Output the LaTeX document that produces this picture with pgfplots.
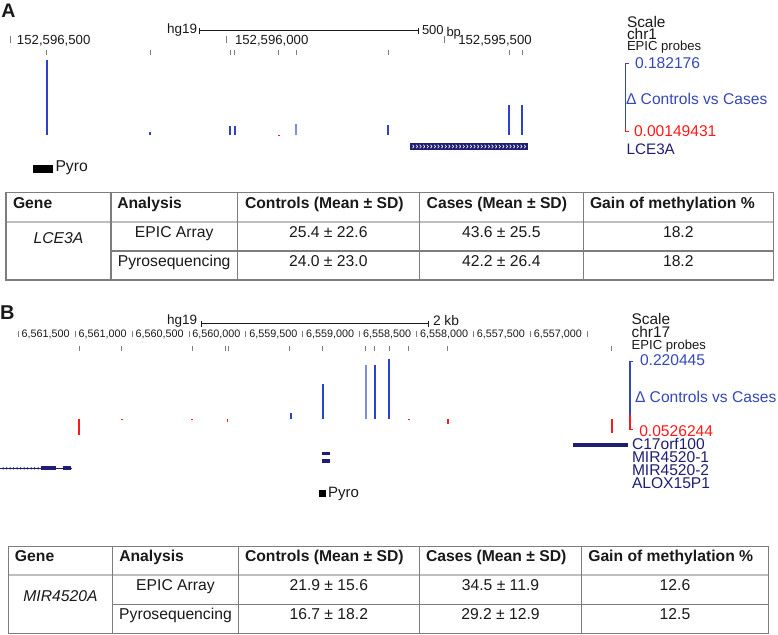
\documentclass[border=0pt]{standalone}
\usepackage{pgfplots}
\pgfplotsset{compat=1.18}
\usepackage{fontspec}
\setmainfont{Liberation Sans}
\definecolor{barblue}{RGB}{45,65,205}
\definecolor{lightbar}{RGB}{125,140,225}
\definecolor{txtblue}{RGB}{52,72,185}
\definecolor{ucscred}{RGB}{255,25,25}
\definecolor{navy}{RGB}{30,30,115}
\definecolor{tgray}{RGB}{125,125,125}
\definecolor{hgray}{RGB}{190,190,190}
\definecolor{ink}{RGB}{25,25,25}
\newcommand{\fs}[1]{\fontsize{#1pt}{#1pt}\selectfont}
\pgfplotsset{track/.style={x=0.5pt, y=0.5pt, xmin=0, xmax=778, hide axis, clip=false, enlargelimits=false, anchor=south west}}
\begin{document}
\begin{tikzpicture}[x=0.5pt,y=-0.5pt, every node/.style={inner sep=0pt, outer sep=0pt}]
\useasboundingbox (0,0) rectangle (778,635);
% ================= Panel A track (baseline at pixel y=135) =================
\begin{axis}[track, ymin=-40, ymax=85, at={(0pt,-87.5pt)}]
% delta bars (height above baseline, px of track)
\addplot[ycomb, color=barblue, line width=0.85pt] coordinates {(46.7,75) (150,3) (230,9) (235,9) (388.3,10) (509.3,30) (522.3,30)};
\addplot[ycomb, color=lightbar, line width=0.85pt] coordinates {(296,11)};
\addplot[ycomb, color=ucscred, line width=0.9pt] coordinates {(278.7,-1.2)};
% EPIC probe positions
\addplot[only marks, mark=|, mark size=1.3pt, mark options={line width=0.45pt, tgray}] coordinates {(46.7,82.5) (150,82.5) (230,82.5) (234.3,82.5) (278.7,82.5) (296,82.5) (388.3,82.5) (509.3,82.5) (522.3,82.5)};
% LCE3A gene
\addplot[navy, line width=3.5pt] coordinates {(410,-11.5) (528,-11.5)};
\pgfplotsinvokeforeach{0,...,31}{\draw[white, line width=0.3pt] (axis cs:{412.5+3.6*#1},-13.2) -- (axis cs:{414+3.6*#1},-11.5) -- (axis cs:{412.5+3.6*#1},-9.8);}
% Pyro amplicon
\addplot[black, line width=4pt] coordinates {(33,-34) (53,-34)};
\end{axis}
% ================= Panel B track (baseline at pixel y=419.3) =================
\begin{axis}[track, ymin=-90, ymax=75, at={(0pt,-254.65pt)}]
\addplot[ycomb, color=barblue, line width=0.9pt] coordinates {(290.7,6) (323.3,35) (374.7,54) (389.3,60)};
\addplot[ycomb, color=lightbar, line width=0.9pt] coordinates {(366,54)};
\addplot[ycomb, color=ucscred, line width=0.95pt] coordinates {(79.3,-15.7) (121.7,-1) (192.3,-1) (227.5,-2.5) (409,-0.8) (447.7,-4.7) (611.7,-14)};
\addplot[only marks, mark=|, mark size=1.3pt, mark options={line width=0.45pt, tgray}] coordinates {(79.3,71) (121.7,71) (192.3,71) (225.3,71) (228.3,71) (289.3,71) (322.7,71) (365.7,71) (374.7,71) (389.3,71) (408.3,71) (447.7,71) (611.7,71)};
% genes
\addplot[navy, line width=1.7pt] coordinates {(573.3,-25.7) (628.3,-25.7)};
\addplot[navy, line width=1.7pt] coordinates {(321.7,-34) (330,-34)};
\addplot[navy, line width=1.7pt] coordinates {(321.7,-41.7) (330,-41.7)};
\addplot[navy, line width=0.5pt] coordinates {(0,-49) (71.7,-49)};
\addplot[navy, line width=2.2pt] coordinates {(40.7,-49) (55.7,-49)};
\addplot[navy, line width=2.2pt] coordinates {(63.3,-49) (71,-49)};
\pgfplotsinvokeforeach{0,...,10}{\draw[navy, line width=0.3pt] (axis cs:{3.5+3.5*#1},-47.8) -- (axis cs:{2.5+3.5*#1},-49) -- (axis cs:{3.5+3.5*#1},-50.2);}
% Pyro amplicon
\addplot[black, line width=3.5pt] coordinates {(318.5,-74) (325.5,-74)};
\end{axis}
% ================= Panel A text =================
\node[anchor=base west, font=\bfseries\fs{9.8}, ink] at (1.5,18) {A};
\node[anchor=base west, font=\fs{6.75}, ink] at (167,34) {hg19};
\draw[ink, line width=0.5pt] (199,30.7) -- (418,30.7) (199,27.7) -- (199,33.7) (418,27.7) -- (418,33.7);
\node[anchor=base west, font=\fs{6.5}, ink] at (422,35) {500};
\node[anchor=base west, font=\fs{6.5}, ink] at (446.5,36.5) {bp};
\draw[tgray, line width=0.5pt] (10,36) -- (10,43) (226.7,36) -- (226.7,43) (444.3,36) -- (444.3,43);
\node[anchor=base west, font=\fs{6.6}, ink] at (17,44.3) {152,596,500};
\node[anchor=base west, font=\fs{6.6}, ink] at (235,44.3) {152,596,000};
\node[anchor=base west, font=\fs{6.6}, ink] at (458.3,44.3) {152,595,500};
\node[anchor=base west, font=\fs{7.7}, ink] at (627,27.3) {Scale};
\node[anchor=base west, font=\fs{7.7}, ink] at (627,39.3) {chr1};
\node[anchor=base west, font=\fs{6.55}, ink] at (627,50.7) {EPIC probes};
\node[anchor=base west, font=\fs{7.8}, txtblue] at (635,68.3) {0.182176};
\node[anchor=base west, font=\fs{7.8}, txtblue] at (626,105) {Δ Controls vs Cases};
\node[anchor=base west, font=\fs{7.8}, ucscred] at (634,136.5) {0.00149431};
\node[anchor=base west, font=\fs{7.6}, navy] at (626.7,155) {LCE3A};
\draw[txtblue, line width=0.6pt] (628.5,63.3) -- (625.7,63.3) -- (625.7,128);
\draw[ucscred, line width=0.6pt] (625.7,128) -- (625.7,131.7) -- (628.5,131.7);
\node[anchor=base west, font=\fs{7.85}, ink] at (55.5,171.5) {Pyro};
% ================= Table A =================
\draw[hgray, line width=1pt] (6,221.7) -- (773.3,221.7);
\draw[tgray, line width=0.6pt] (6,192.7) rectangle (773.3,280);
\draw[tgray, line width=0.6pt] (111,251) -- (773.3,251);
\draw[tgray, line width=0.6pt] (111,192.7) -- (111,280) (237.3,192.7) -- (237.3,280) (419.3,192.7) -- (419.3,280) (583.3,192.7) -- (583.3,280);
\begin{scope}[every node/.append style={font=\bfseries\fs{7.85}, ink, anchor=base west}]
\node at (13,208.3) {Gene};
\node at (117.3,208.3) {Analysis};
\node at (245,208.3) {Controls (Mean ± SD)};
\node at (426.7,208.3) {Cases (Mean ± SD)};
\node at (590,208.3) {Gain of methylation \%};
\end{scope}
\begin{scope}[every node/.append style={font=\fs{7.85}, ink, anchor=base}]
\node[font=\itshape\fs{7.85}] at (58.5,243.3) {LCE3A};
\node at (174.2,237.3) {EPIC Array};
\node at (174.2,266.7) {Pyrosequencing};
\node at (328.3,237.3) {25.4 ± 22.6};
\node at (328.3,266.7) {24.0 ± 23.0};
\node at (501.3,237.3) {43.6 ± 25.5};
\node at (501.3,266.7) {42.2 ± 26.4};
\node at (678.3,237.3) {18.2};
\node at (678.3,266.7) {18.2};
\end{scope}
% ================= Panel B text =================
\node[anchor=base west, font=\bfseries\fs{10}, ink] at (0,320) {B};
\node[anchor=base west, font=\fs{6.75}, ink] at (167,325) {hg19};
\draw[ink, line width=0.5pt] (201.7,324) -- (428.3,324) (201.7,321) -- (201.7,327) (428.3,321) -- (428.3,327);
\node[anchor=base west, font=\fs{6.9}, ink] at (433,326) {2 kb};
\foreach \i/\lab in {0/{6,561,500},1/{6,561,000},2/{6,560,500},3/{6,560,000},4/{6,559,500},5/{6,559,000},6/{6,558,500},7/{6,558,000},8/{6,557,500},9/{6,557,000}}{
  \draw[tgray, line width=0.45pt] ({18.3+56.9*\i},330.7) -- ({18.3+56.9*\i},337.3);
  \node[anchor=base west, font=\fs{5.4}, ink] at ({21.7+56.9*\i},337.3) {\lab};
}
\draw[tgray, line width=0.45pt] (587.3,330.7) -- (587.3,337.3);
\node[anchor=base west, font=\fs{7.7}, ink] at (631.7,324.3) {Scale};
\node[anchor=base west, font=\fs{7.7}, ink] at (631.7,337.3) {chr17};
\node[anchor=base west, font=\fs{6.55}, ink] at (631.7,349.5) {EPIC probes};
\node[anchor=base west, font=\fs{7.8}, txtblue] at (640,366) {0.220445};
\node[anchor=base west, font=\fs{7.8}, txtblue] at (635,402.3) {Δ Controls vs Cases};
\node[anchor=base west, font=\fs{7.8}, ucscred] at (639.3,436.7) {0.0526244};
\draw[txtblue, line width=0.6pt] (633,361.7) -- (630,361.7) -- (630,415);
\draw[ucscred, line width=0.6pt] (630,415) -- (630,429.3) -- (633,429.3);
\begin{scope}[every node/.append style={font=\fs{7.8}, navy, anchor=base west}]
\node at (632,450) {C17orf100};
\node at (632,462.7) {MIR4520-1};
\node at (632,475.5) {MIR4520-2};
\node at (632,488.3) {ALOX15P1};
\end{scope}
\node[anchor=base west, font=\fs{7.5}, ink] at (328,498) {Pyro};
% ================= Table B =================
\draw[hgray, line width=1pt] (8.3,575) -- (768.3,575);
\draw[tgray, line width=0.6pt] (8.3,546.7) rectangle (768.3,633.3);
\draw[tgray, line width=0.6pt] (112.7,604.3) -- (768.3,604.3);
\draw[tgray, line width=0.6pt] (112.7,546.7) -- (112.7,633.3) (238.3,546.7) -- (238.3,633.3) (419.3,546.7) -- (419.3,633.3) (581.7,546.7) -- (581.7,633.3);
\begin{scope}[every node/.append style={font=\bfseries\fs{7.85}, ink, anchor=base west}]
\node at (15,561.7) {Gene};
\node at (119.3,561.7) {Analysis};
\node at (245,561.7) {Controls (Mean ± SD)};
\node at (426,561.7) {Cases (Mean ± SD)};
\node at (588.3,561.7) {Gain of methylation \%};
\end{scope}
\begin{scope}[every node/.append style={font=\fs{7.85}, ink, anchor=base}]
\node[font=\itshape\fs{7.85}] at (60.5,601.7) {MIR4520A};
\node at (175.5,591) {EPIC Array};
\node at (175.5,619.3) {Pyrosequencing};
\node at (328.8,591) {21.9 ± 15.6};
\node at (328.8,619.3) {16.7 ± 18.2};
\node at (500.5,591) {34.5 ± 11.9};
\node at (500.5,619.3) {29.2 ± 12.9};
\node at (675,591) {12.6};
\node at (675,619.3) {12.5};
\end{scope}
\end{tikzpicture}
\end{document}
